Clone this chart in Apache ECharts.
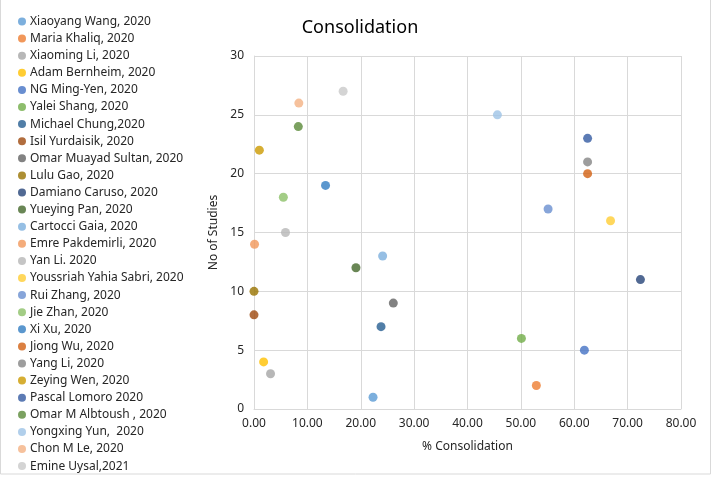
<!DOCTYPE html>
<html>
<head>
<meta charset="utf-8">
<script src="https://cdn.jsdelivr.net/npm/echarts@6/dist/echarts.min.js"></script>
<style>html,body{margin:0;padding:0;background:#fff}#c{width:714px;height:478px}</style>
</head>
<body>
<div id="c"></div>
<script>
const studies = ["Xiaoyang Wang, 2020","Maria Khaliq, 2020","Xiaoming Li, 2020","Adam Bernheim, 2020","NG Ming-Yen, 2020","Yalei Shang, 2020","Michael Chung,2020","Isil Yurdaisik, 2020","Omar Muayad Sultan, 2020","Lulu Gao, 2020","Damiano Caruso, 2020","Yueying Pan, 2020","Cartocci Gaia, 2020","Emre Pakdemirli, 2020","Yan Li. 2020","Youssriah Yahia Sabri, 2020","Rui Zhang, 2020","Jie Zhan, 2020","Xi Xu, 2020","Jiong Wu, 2020","Yang Li, 2020","Zeying Wen, 2020","Pascal Lomoro 2020","Omar M Albtoush , 2020","Yongxing Yun,  2020","Chon M Le, 2020","Emine Uysal,2021"];
const consolidation = [22.3,52.9,3.1,1.8,61.9,50.1,23.8,0.0,26.1,0.0,72.4,19.1,24.1,0.1,5.9,66.8,55.1,5.5,13.4,62.5,62.5,1.0,62.5,8.3,45.6,8.4,16.7];
const studyNo = [1,2,3,4,5,6,7,8,9,10,11,12,13,14,15,16,17,18,19,20,21,22,23,24,25,26,27];
const colors = ["#5B9BD5","#ED7D31","#A5A5A5","#FFC000","#4472C4","#70AD47","#255E91","#9E480E","#636363","#997300","#264478","#43682B","#7CAFDD","#F1975A","#B7B7B7","#FFCD33","#698ED0","#8CC168","#327DC2","#D26012","#848484","#CC9A00","#335AA1","#5A8A38","#9DC3E6","#F4B183","#C9C9C9"];

const series = studies.map((name, i) => ({
  name: name,
  type: 'scatter',
  symbol: 'circle',
  symbolSize: 9,
  itemStyle: { color: colors[i] },
  data: [[consolidation[i], studyNo[i]]]
}));

const chart = echarts.init(document.getElementById('c'));
chart.setOption({
  animation: false,
  backgroundColor: '#fff',
  title: {
    text: 'Consolidation',
    left: 355, textAlign: 'center', top: 14,
    textStyle: { fontFamily: 'Noto Sans, Liberation Sans, sans-serif', fontSize: 18, fontWeight: 'normal', color: '#000' }
  },
  legend: {
    orient: 'vertical',
    left: 18, top: 15, height: 465,
    padding: 0,
    itemWidth: 8, itemHeight: 8,
    itemGap: 4.1,
    icon: 'circle',
    textStyle: { fontFamily: 'Noto Sans, Liberation Sans, sans-serif', fontSize: 12, color: '#262626', lineHeight: 13, padding: [0,0,0,-1] },
    data: studies
  },
  grid: { left: 254, right: 33, top: 56, bottom: 69 },
  xAxis: {
    type: 'value', min: 0, max: 80, interval: 10,
    name: '% Consolidation', nameLocation: 'middle', nameGap: 32,
    nameTextStyle: { fontFamily: 'Noto Sans, Liberation Sans, sans-serif', fontSize: 12, color: '#262626' },
    axisLabel: { formatter: v => v.toFixed(2), fontFamily: 'Noto Sans, Liberation Sans, sans-serif', fontSize: 12, color: '#262626', margin: 9 },
    axisLine: { show: true, lineStyle: { color: '#D9D9D9' } },
    axisTick: { show: false },
    splitLine: { show: true, lineStyle: { color: '#D9D9D9', width: 1 } }
  },
  yAxis: {
    type: 'value', min: 0, max: 30, interval: 5,
    name: 'No of Studies', nameLocation: 'middle', nameGap: 33, nameRotate: 90,
    nameTextStyle: { fontFamily: 'Noto Sans, Liberation Sans, sans-serif', fontSize: 12, color: '#262626' },
    axisLabel: { fontFamily: 'Noto Sans, Liberation Sans, sans-serif', fontSize: 12, color: '#262626', margin: 10 },
    axisLine: { show: true, lineStyle: { color: '#D9D9D9' } },
    axisTick: { show: false },
    splitLine: { show: true, lineStyle: { color: '#D9D9D9', width: 1 } }
  },
  graphic: [{
    type: 'rect', silent: true, z: -1,
    shape: { x: 0.5, y: -1, width: 710, height: 475 },
    style: { fill: 'none', stroke: '#D9D9D9', lineWidth: 1 }
  }],
  series: series
});
</script>
</body>
</html>
